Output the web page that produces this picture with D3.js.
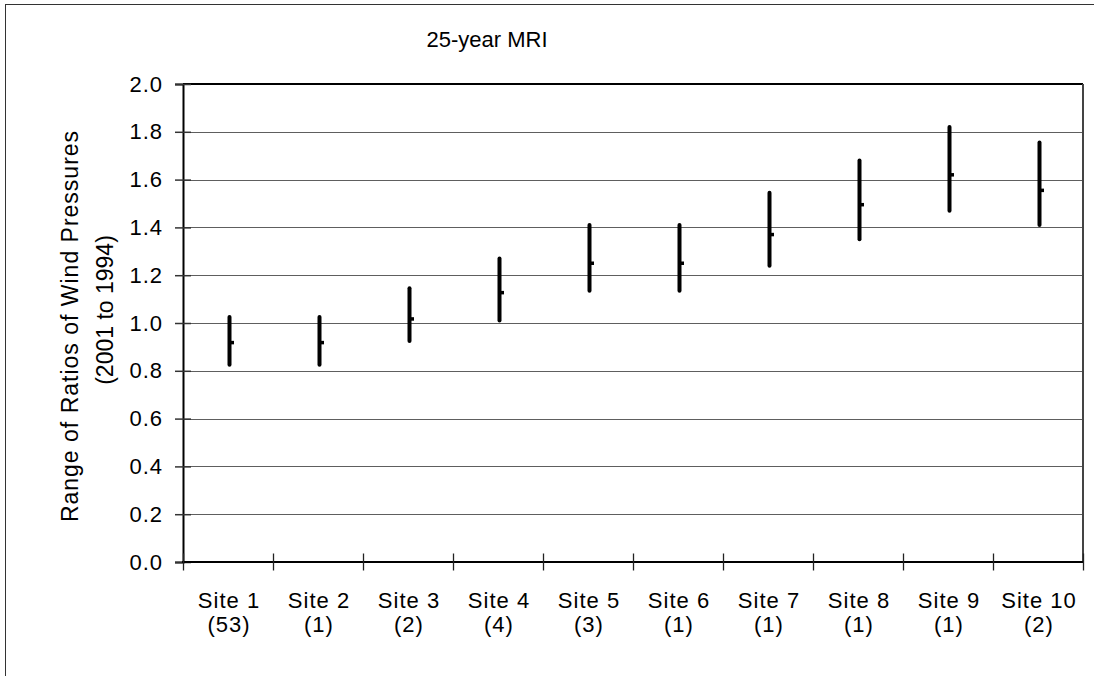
<!DOCTYPE html>
<html>
<head>
<meta charset="utf-8">
<script src="https://cdn.jsdelivr.net/npm/d3@7"></script>
<style>
  body { margin: 0; background: #fff; }
  svg { display: block; }
  text { font-family: "Liberation Sans", Arial, sans-serif; fill: #000; }
</style>
</head>
<body>
<svg id="chart" width="1094" height="676"></svg>
<script>
// Site names and number of stations per site
const sites  = ["Site 1", "Site 2", "Site 3", "Site 4", "Site 5", "Site 6", "Site 7", "Site 8", "Site 9", "Site 10"];
const counts = ["(53)", "(1)", "(2)", "(4)", "(3)", "(1)", "(1)", "(1)", "(1)", "(2)"];

// Ratio ranges (low / high) and the mean ratio for each site
const lows  = [0.825, 0.825, 0.925, 1.01, 1.135, 1.135, 1.24, 1.35, 1.47, 1.41];
const highs = [1.025, 1.025, 1.145, 1.27, 1.41, 1.41, 1.545, 1.68, 1.82, 1.755];
const means = [0.918, 0.918, 1.017, 1.127, 1.25, 1.25, 1.37, 1.495, 1.62, 1.555];

const yTicks = [0, 0.2, 0.4, 0.6, 0.8, 1.0, 1.2, 1.4, 1.6, 1.8, 2.0];

const chartTitle = "25-year MRI";
const yTitle1 = "Range of Ratios of Wind Pressures";
const yTitle2 = "(2001 to 1994)";

const svg = d3.select("#chart");
const plot = { left: 183, right: 1083, top: 84, bottom: 562 };

const x = d3.scaleBand().domain(sites).range([plot.left, plot.right]);
const y = d3.scaleLinear().domain([0, 2]).range([plot.bottom, plot.top]);

// Outer chart frame
svg.append("rect")
  .attr("x", 5.5).attr("y", 4.5)
  .attr("width", 1300).attr("height", 900)
  .attr("fill", "none").attr("stroke", "#333").attr("stroke-width", 1);

// Horizontal gridlines
svg.append("g")
  .selectAll("line")
  .data(yTicks.filter(d => d > 0 && d < 2))
  .join("line")
  .attr("x1", plot.left).attr("x2", plot.right)
  .attr("y1", d => Math.round(y(d)) + 0.5).attr("y2", d => Math.round(y(d)) + 0.5)
  .attr("stroke", "#5e5e5e").attr("stroke-width", 1);

// Plot area top and right edges
svg.append("line")
  .attr("x1", plot.left).attr("x2", plot.right)
  .attr("y1", plot.top).attr("y2", plot.top)
  .attr("stroke", "#000").attr("stroke-width", 2);
svg.append("line")
  .attr("x1", plot.right).attr("x2", plot.right)
  .attr("y1", plot.top).attr("y2", plot.bottom)
  .attr("stroke", "#444").attr("stroke-width", 2);

// Y axis
const yAxis = svg.append("g")
  .attr("transform", `translate(${plot.left},0)`)
  .call(d3.axisLeft(y).tickValues(yTicks).tickFormat(d3.format(".1f")).tickSize(8).tickPadding(12));
yAxis.select(".domain").attr("stroke", "#000").attr("stroke-width", 2);
yAxis.selectAll(".tick line").attr("x1", 8).attr("stroke", "#333").attr("stroke-width", 1.5);
yAxis.selectAll(".tick text")
  .style("font-size", "22px")
  .style("letter-spacing", "1px")
  .attr("font-family", null);

// X axis: baseline, category boundary ticks and two-line labels
const xAxis = svg.append("g");
xAxis.append("line")
  .attr("x1", plot.left - 1).attr("x2", plot.right)
  .attr("y1", plot.bottom).attr("y2", plot.bottom)
  .attr("stroke", "#000").attr("stroke-width", 2);
const bounds = sites.map(s => x(s)).concat([x(sites[sites.length - 1]) + x.bandwidth()]);
xAxis.selectAll("line.tick")
  .data(bounds)
  .join("line")
  .attr("class", "tick")
  .attr("x1", d => Math.round(d) + 0.5).attr("x2", d => Math.round(d) + 0.5)
  .attr("y1", plot.bottom - 8.5).attr("y2", plot.bottom + 8.5)
  .attr("stroke", "#222").attr("stroke-width", 1.3);

// Site names on one row, station counts on the row below
xAxis.selectAll("text.site")
  .data(sites)
  .join("text")
  .attr("class", "site")
  .attr("x", d => x(d) + x.bandwidth() / 2 + 1)
  .attr("y", 608)
  .attr("text-anchor", "middle")
  .style("font-size", "22px")
  .style("letter-spacing", "1px")
  .text(d => d);
xAxis.selectAll("text.count")
  .data(sites)
  .join("text")
  .attr("class", "count")
  .attr("x", d => x(d) + x.bandwidth() / 2 + 1)
  .attr("y", 632)
  .attr("text-anchor", "middle")
  .style("font-size", "22px")
  .style("letter-spacing", "1px")
  .text((d, i) => counts[i]);

// Range bars with a short mean marker on the right side
const cx = d => x(d) + x.bandwidth() / 2 + 1.5;
const marks = svg.append("g");
marks.selectAll("line")
  .data(sites)
  .join("line")
  .attr("x1", cx).attr("x2", cx)
  .attr("y1", (d, i) => y(lows[i])).attr("y2", (d, i) => y(highs[i]))
  .attr("stroke", "#000").attr("stroke-width", 4).attr("stroke-linecap", "round");
marks.selectAll("rect")
  .data(sites)
  .join("rect")
  .attr("x", cx).attr("width", 4.5)
  .attr("y", (d, i) => y(means[i]) - 1.75).attr("height", 3.5)
  .attr("fill", "#000");

// Chart title
svg.append("text")
  .attr("x", 487).attr("y", 47)
  .attr("text-anchor", "middle")
  .style("font-size", "22px")
  .text(chartTitle);

// Y axis title (two lines, rotated)
svg.append("text")
  .attr("transform", "translate(78,326) rotate(-90)")
  .attr("text-anchor", "middle")
  .style("font-size", "23px")
  .style("letter-spacing", "1px")
  .text(yTitle1);
svg.append("text")
  .attr("transform", "translate(113,310) rotate(-90)")
  .attr("text-anchor", "middle")
  .style("font-size", "23px")
  .text(yTitle2);
</script>
</body>
</html>
